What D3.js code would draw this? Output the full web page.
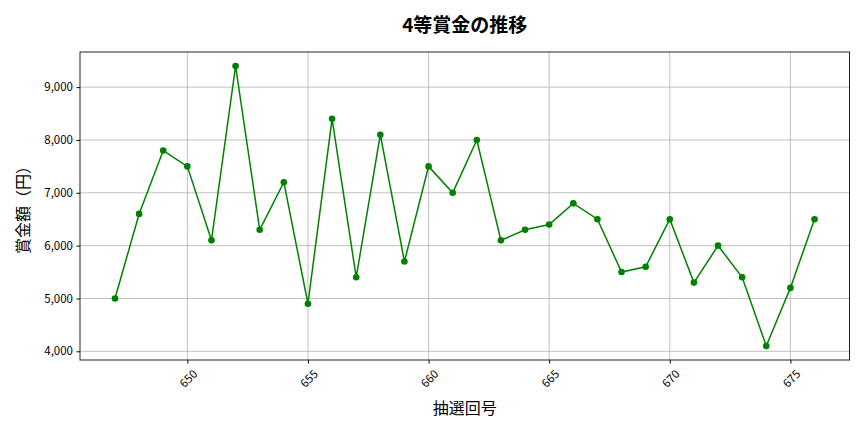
<!DOCTYPE html>
<html>
<head>
<meta charset="utf-8">
<script src="https://cdn.jsdelivr.net/npm/d3@7"></script>
<style>
  body { margin: 0; background: #fff; }
  svg text { font-family: "Noto Sans CJK JP", "Noto Sans", sans-serif; }
</style>
</head>
<body>
<div id="chart"></div>
<script>
// draw numbers (抽選回号) and 4th prize amounts (円)
var drawNumbers = [647, 648, 649, 650, 651, 652, 653, 654, 655, 656,
                   657, 658, 659, 660, 661, 662, 663, 664, 665, 666,
                   667, 668, 669, 670, 671, 672, 673, 674, 675, 676];
var prizeValues = [5000, 6600, 7800, 7500, 6100, 9400, 6300, 7200, 4900, 8400,
                   5400, 8100, 5700, 7500, 7000, 8000, 6100, 6300, 6400, 6800,
                   6500, 5500, 5600, 6500, 5300, 6000, 5400, 4100, 5200, 6500];
var xTicks = [650, 655, 660, 665, 670, 675];
var yTicks = [4000, 5000, 6000, 7000, 8000, 9000];

var width = 864, height = 432;
var margin = {left: 80, right: 14.5, top: 52, bottom: 72};
var lineColor = "#008000";

var svg = d3.select("#chart").append("svg")
    .attr("width", width)
    .attr("height", height);

// matplotlib style 5% margins
var xMin = d3.min(drawNumbers), xMax = d3.max(drawNumbers);
var xPad = (xMax - xMin) * 0.05;
var yMin = d3.min(prizeValues), yMax = d3.max(prizeValues);
var yPad = (yMax - yMin) * 0.05;

var x = d3.scaleLinear()
    .domain([xMin - xPad, xMax + xPad])
    .range([margin.left, width - margin.right]);
var y = d3.scaleLinear()
    .domain([yMin - yPad, yMax + yPad])
    .range([height - margin.bottom, margin.top]);

// grid
svg.append("g").selectAll("line.vgrid")
    .data(xTicks).enter().append("line")
    .attr("x1", function(d) { return x(d); })
    .attr("x2", function(d) { return x(d); })
    .attr("y1", margin.top)
    .attr("y2", height - margin.bottom)
    .attr("stroke", "#b0b0b0")
    .attr("stroke-width", 0.8);
svg.append("g").selectAll("line.hgrid")
    .data(yTicks).enter().append("line")
    .attr("x1", margin.left)
    .attr("x2", width - margin.right)
    .attr("y1", function(d) { return y(d); })
    .attr("y2", function(d) { return y(d); })
    .attr("stroke", "#b0b0b0")
    .attr("stroke-width", 0.8);

// axes
var xAxis = svg.append("g")
    .attr("transform", "translate(0," + (height - margin.bottom) + ")")
    .call(d3.axisBottom(x).tickValues(xTicks).tickSize(3.5).tickPadding(3.5).tickFormat(d3.format("d")));
xAxis.select(".domain").remove();
xAxis.selectAll("text")
    .attr("font-size", "11.5px")
    .attr("fill", "#000")
    .attr("text-anchor", "middle")
    .attr("dy", null)
    .attr("y", 0)
    .attr("transform", "translate(0,18) rotate(-45)")
    .attr("dominant-baseline", "central");

var yAxis = svg.append("g")
    .attr("transform", "translate(" + margin.left + ",0)")
    .call(d3.axisLeft(y).tickValues(yTicks).tickSize(3.5).tickPadding(3.5).tickFormat(d3.format(",")));
yAxis.select(".domain").remove();
yAxis.selectAll("text").attr("font-size", "11.5px").attr("fill", "#000");

// frame
svg.append("rect")
    .attr("x", margin.left)
    .attr("y", margin.top)
    .attr("width", width - margin.left - margin.right)
    .attr("height", height - margin.top - margin.bottom)
    .attr("fill", "none")
    .attr("stroke", "#222")
    .attr("stroke-width", 1);

// line + markers
var points = drawNumbers.map(function(d, i) { return [d, prizeValues[i]]; });
var line = d3.line()
    .x(function(d) { return x(d[0]); })
    .y(function(d) { return y(d[1]); });
svg.append("path")
    .datum(points)
    .attr("d", line)
    .attr("fill", "none")
    .attr("stroke", lineColor)
    .attr("stroke-width", 1.5);
svg.append("g").selectAll("circle")
    .data(points).enter().append("circle")
    .attr("cx", function(d) { return x(d[0]); })
    .attr("cy", function(d) { return y(d[1]); })
    .attr("r", 3.3)
    .attr("fill", lineColor);

// titles
svg.append("text")
    .attr("x", (margin.left + width - margin.right) / 2)
    .attr("y", 32)
    .attr("text-anchor", "middle")
    .attr("font-size", "19px")
    .attr("font-weight", "bold")
    .text("4等賞金の推移");
svg.append("text")
    .attr("x", (margin.left + width - margin.right) / 2)
    .attr("y", 414)
    .attr("text-anchor", "middle")
    .attr("font-size", "16px")
    .text("抽選回号");
svg.append("text")
    .attr("transform", "translate(29," + ((margin.top + height - margin.bottom) / 2) + ") rotate(-90)")
    .attr("text-anchor", "middle")
    .attr("font-size", "16px")
    .text("賞金額（円）");
</script>
</body>
</html>
